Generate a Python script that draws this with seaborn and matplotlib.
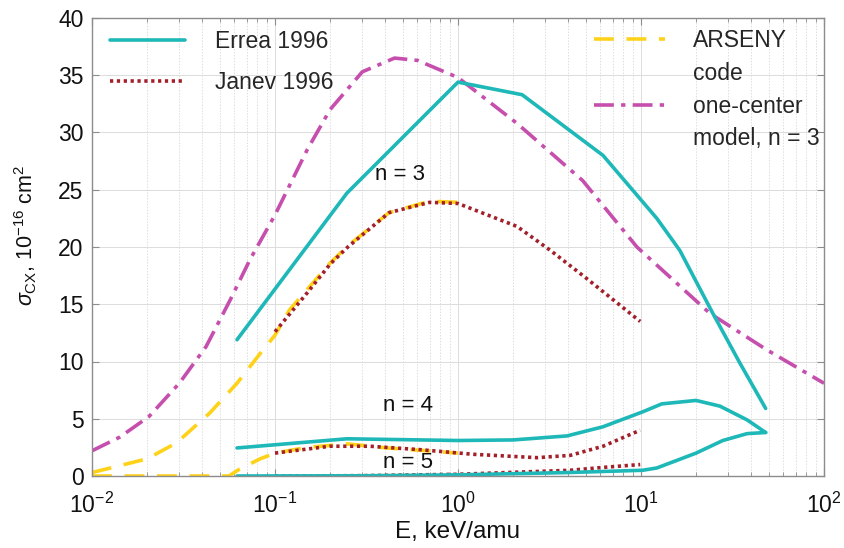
import numpy as np
import pandas as pd
import matplotlib
matplotlib.use("Agg")
import matplotlib.pyplot as plt
import seaborn as sns
from matplotlib.lines import Line2D
from matplotlib.ticker import LogLocator

# ---------------- data ----------------
# one-center model, n = 3
oc_E = [0.01, 0.0142, 0.0205, 0.03, 0.042, 0.057, 0.073, 0.1, 0.15, 0.2, 0.3, 0.45, 0.6, 1.0,
        2.1, 4.8, 9.5, 23.8, 48.9, 100]
oc_s = [2.2, 3.4, 5.2, 8.1, 11.3, 15.4, 18.9, 22.8, 28.5, 32.0, 35.3, 36.5, 36.3, 34.8,
        30.8, 25.8, 20.0, 14.2, 11.0, 8.1]

# Errea 1996
er3_E = [0.062, 0.247, 1.0, 2.24, 6.2, 12.2, 16.3, 24.7, 34.6, 48.0]
er3_s = [11.9, 24.7, 34.4, 33.3, 28.0, 22.5, 19.7, 14.2, 9.9, 5.9]
er4_E = [0.062, 0.247, 1.0, 2.0, 3.94, 6.2, 10.2, 13.0, 20.0, 27.0, 38.0, 48.0]
er4_s = [2.45, 3.25, 3.1, 3.15, 3.5, 4.3, 5.6, 6.3, 6.6, 6.1, 4.9, 3.8]
er5_E = [0.062, 0.3, 1.0, 3.94, 10.2, 12.2, 20.0, 28.0, 38.0, 48.0]
er5_s = [0.0, 0.02, 0.1, 0.3, 0.5, 0.7, 2.0, 3.1, 3.7, 3.8]

# Janev 1996
ja3_E = [0.1, 0.15, 0.2, 0.25, 0.42, 0.7, 1.0, 2.1, 3.2, 5.0, 9.9]
ja3_s = [12.6, 16.0, 18.5, 20.0, 23.0, 23.9, 23.8, 21.8, 19.7, 17.3, 13.5]
ja4_E = [0.1, 0.2, 0.33, 0.62, 1.2, 2.7, 4.1, 6.2, 9.9]
ja4_s = [2.0, 2.6, 2.6, 2.3, 1.9, 1.6, 1.8, 2.6, 4.0]
ja5_E = [0.1, 0.3, 1.0, 4.1, 6.2, 9.9]
ja5_s = [0.0, 0.03, 0.15, 0.5, 0.75, 1.0]

# ARSENY code
ar3_E = [0.01, 0.02, 0.029, 0.044, 0.062, 0.083, 0.1, 0.12, 0.2, 0.25, 0.42, 0.7, 1.0]
ar3_s = [0.3, 1.5, 2.9, 5.5, 8.1, 10.7, 12.3, 14.5, 18.6, 20.1, 23.0, 24.0, 23.9]
ar4_E = [0.01, 0.02, 0.04, 0.056, 0.064, 0.083, 0.1, 0.15, 0.25, 0.41, 0.62, 1.0]
ar4_s = [0.0, 0.0, 0.0, 0.0, 0.6, 1.5, 2.0, 2.5, 2.8, 2.45, 2.25, 2.0]

labels_n = ["n = 3", "n = 4", "n = 5"]
label_E = [0.48, 0.53, 0.53]
label_s = [26.3, 6.2, 1.2]

x_label = "E, keV/amu"
y_label = r"$\sigma_{\rm CX}$, 10$^{-16}$ cm$^2$"

# ---------------- style ----------------
sns.set_theme(style="white")
plt.rcParams["font.family"] = ["Liberation Sans", "DejaVu Sans"]
plt.rcParams["mathtext.fontset"] = "custom"
plt.rcParams["mathtext.rm"] = "Liberation Sans"
plt.rcParams["mathtext.it"] = "Liberation Sans:italic"
plt.rcParams["mathtext.bf"] = "Liberation Sans:bold"

TEAL = "#1fb8b8"
RED = "#a3202b"
YEL = "#ffd21a"
MAG = "#c64fae"
LW = 2.6

fig = plt.figure(figsize=(8.45, 5.48), dpi=100)
ax = fig.add_axes([92 / 845, 72 / 548, 732 / 845, 458 / 548])

def draw(E, s, color, ls):
    df = pd.DataFrame({"E": E, "s": s})
    sns.lineplot(data=df, x="E", y="s", color=color, lw=LW, linestyle=ls,
                 sort=False, estimator=None, ax=ax, legend=False)

DOT = (0, (0.9, 1.0))
DASH = (0, (5.5, 3.5))
DASHDOT = (0, (5.5, 2.0, 1.2, 2.0))

draw(oc_E, oc_s, MAG, DASHDOT)
draw(ar3_E, ar3_s, YEL, DASH)
draw(ar4_E, ar4_s, YEL, DASH)
draw(ja3_E, ja3_s, RED, DOT)
draw(ja4_E, ja4_s, RED, DOT)
draw(ja5_E, ja5_s, RED, DOT)
draw(er3_E, er3_s, TEAL, "-")
draw(er4_E, er4_s, TEAL, "-")
draw(er5_E, er5_s, TEAL, "-")

for t, xe, ys in zip(labels_n, label_E, label_s):
    ax.text(xe, ys, t, fontsize=16, ha="center", va="center", color="#111111")

ax.set_xscale("log")
ax.set_xlim(1e-2, 1e2)
ax.set_ylim(0, 40)
ax.set_yticks(np.arange(0, 41, 5))
ax.xaxis.set_minor_locator(LogLocator(base=10, subs=np.arange(2, 10), numticks=20))

ax.grid(True, which="major", axis="both", color="#dcdcdc", lw=0.7, ls="-")
ax.grid(True, which="minor", axis="x", color="#dedede", lw=0.7, ls=(0, (1.5, 1.5)))
ax.set_axisbelow(True)

for sp in ax.spines.values():
    sp.set_color("#8c8c8c")
    sp.set_linewidth(1.0)
    sp.set_visible(True)

ax.tick_params(which="both", direction="in", top=True, right=True, bottom=True, left=True,
               color="#8c8c8c", labelsize=16.5, labelcolor="#111111")
ax.tick_params(which="major", length=5, width=0.8)
ax.tick_params(axis="x", which="major", pad=12)
ax.tick_params(axis="y", which="major", pad=6)
ax.tick_params(which="minor", length=3, width=0.6)

ax.set_xlabel(x_label, fontsize=17.5, color="#111111", labelpad=2)
ax.set_ylabel(y_label, fontsize=15.5, color="#111111")
ax.yaxis.set_label_coords(-0.072, 0.525)

# legends
h1 = [Line2D([], [], color=TEAL, lw=LW, ls="-"),
      Line2D([], [], color=RED, lw=LW, ls=DOT)]
leg1 = ax.legend(h1, ["Errea 1996", "Janev 1996"], loc="upper left",
                 bbox_to_anchor=(0.018, 0.983), frameon=False, fontsize=16.5,
                 handlelength=3.3, handletextpad=1.3, labelspacing=0.75,
                 borderaxespad=0, borderpad=0.2)
ax.add_artist(leg1)

blank = Line2D([], [], color="none", lw=0)
h2 = [Line2D([], [], color=YEL, lw=LW, ls=DASH), blank,
      Line2D([], [], color=MAG, lw=LW, ls=DASHDOT), blank]
leg2 = ax.legend(h2, ["ARSENY", "code", "one-center", "model, n = 3"], loc="upper left",
                 bbox_to_anchor=(0.68, 0.985), frameon=False, fontsize=16.5,
                 handlelength=3.1, handletextpad=1.2, labelspacing=0.42,
                 borderaxespad=0, borderpad=0.2)

fig.savefig("out.png", dpi=100, facecolor="white")
